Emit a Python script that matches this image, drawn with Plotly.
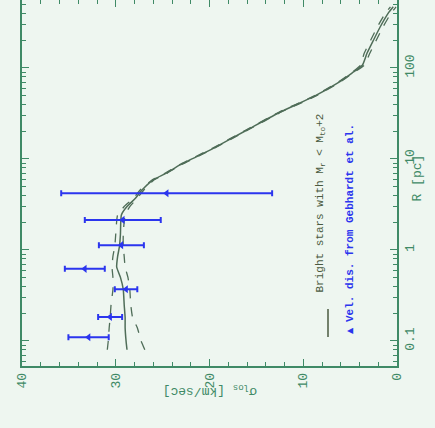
import plotly.graph_objects as go

# Model curves: R [pc] and line-of-sight velocity dispersion [km/s]
R_model = [0.08, 0.1, 0.14, 0.18, 0.25, 0.37, 0.5, 0.65, 0.85, 1.1, 1.5, 2.43, 3.0, 3.7,
           4.56, 5.9, 7.0, 8.6, 13.1, 20.8, 33, 48.4, 67.6, 88, 107, 145, 203, 282, 398, 470]
sigma_mid = [28.8, 28.9, 29.0, 29.0, 29.1, 29.2, 29.5, 29.9, 29.8, 29.6, 29.5, 29.4, 28.8, 27.9,
             27.2, 26.0, 24.6, 23.15, 19.6, 16.0, 12.4, 8.9, 6.4, 4.8, 3.7, 3.2, 2.5, 1.8, 0.95, 0.4]
sigma_hi = [30.9, 30.8, 30.7, 30.6, 30.5, 30.3, 30.3, 30.4, 30.3, 30.1, 30.0, 29.8, 29.1, 28.1,
            27.4, 26.1, 24.7, 23.25, 19.7, 16.1, 12.5, 9.0, 6.5, 4.9, 3.9, 3.5, 2.8, 2.1, 1.25, 0.7]
sigma_lo = [26.9, 27.3, 27.7, 28.2, 28.4, 28.5, 28.7, 29.0, 29.1, 29.2, 29.2, 29.0, 28.5, 27.7,
            27.0, 25.9, 24.5, 23.05, 19.5, 15.9, 12.3, 8.8, 6.3, 4.7, 3.5, 2.9, 2.2, 1.5, 0.65, 0.1]

# Gebhardt et al. velocity dispersions
R_obs = [0.11, 0.184, 0.37, 0.62, 1.13, 2.14, 4.2]
sigma_obs = [32.9, 30.6, 28.9, 33.3, 29.4, 29.25, 24.57]
sigma_err = [2.15, 1.28, 1.2, 2.13, 2.4, 4.05, 11.25]

sigma_ticks = [0, 10, 20, 30, 40]
R_ticks = [0.1, 1, 10, 100]
R_ticklabels = ["0.1", "1", "10", "100"]

AX = "#3f8a66"
BG = "#eef6f0"
CURVE = "#4f6d58"
BLUE = "#2b35ee"
FONT = "Liberation Mono"

fig = go.Figure()
fig.add_trace(go.Scatter(x=sigma_hi, y=R_model, mode="lines", line_shape="spline",
                         line=dict(color=CURVE, width=1.3, dash="dash", smoothing=0.5),
                         showlegend=False))
fig.add_trace(go.Scatter(x=sigma_lo, y=R_model, mode="lines", line_shape="spline",
                         line=dict(color=CURVE, width=1.3, dash="dash", smoothing=0.5),
                         showlegend=False))
fig.add_trace(go.Scatter(x=sigma_mid, y=R_model, mode="lines", line_shape="spline",
                         line=dict(color=CURVE, width=1.5, smoothing=0.5), showlegend=False))
fig.add_trace(go.Scatter(x=sigma_obs, y=R_obs, mode="markers",
                         marker=dict(symbol="triangle-left", size=7, color=BLUE),
                         error_x=dict(type="data", array=sigma_err, color=BLUE,
                                      thickness=2, width=3),
                         showlegend=False))

# plot-area geometry in pixels
L, Rm, T, B = 22, 38, 0, 62
W, H = 435, 428
pw, ph = W - L - Rm, H - T - B

def px(x):
    return (x - L) / pw

def py(y):
    return (H - B - y) / ph

ann = []
ann.append(dict(x=px(328), y=py(203), xref="paper", yref="paper",
                text="Bright stars with M<sub>r</sub> < M<sub>to</sub>+2",
                textangle=-90, showarrow=False,
                font=dict(family=FONT, size=11, color="#4a5a40")))
ann.append(dict(x=px(358), y=py(223), xref="paper", yref="paper",
                text="<b>Vel. dis. from Gebhardt et al.</b>",
                textangle=-90, showarrow=False,
                font=dict(family=FONT, size=11, color=BLUE)))
ann.append(dict(x=px(356), y=py(337), xref="paper", yref="paper",
                text="◀", showarrow=False,
                font=dict(family="DejaVu Sans", size=8, color=BLUE)))
ann.append(dict(x=px(426), y=py(178), xref="paper", yref="paper",
                text="R [pc]", textangle=-90, showarrow=False,
                font=dict(family=FONT, size=13, color=AX)))
ann.append(dict(x=px(210), y=py(401), xref="paper", yref="paper",
                text="σ<sub>los</sub> [km/sec]", textangle=180, showarrow=False,
                font=dict(family=FONT, size=13, color=AX)))

shapes = [dict(type="line", xref="paper", yref="paper",
               x0=px(328), x1=px(328), y0=py(309), y1=py(337),
               line=dict(color="#4a5a40", width=1.5))]

fig.update_layout(
    width=W, height=H,
    margin=dict(l=L, r=Rm, t=T, b=B, pad=0),
    paper_bgcolor=BG, plot_bgcolor=BG,
    annotations=ann, shapes=shapes,
    xaxis=dict(range=[40, 0], tickvals=sigma_ticks, ticks="inside", ticklen=7,
               automargin=False,
               tickcolor=AX, tickwidth=1.3, mirror="allticks", showline=True,
               linecolor=AX, linewidth=1.5, showgrid=False, zeroline=False,
               tickangle=-90, tickfont=dict(family=FONT, size=13, color=AX),
               minor=dict(dtick=2, ticks="inside", ticklen=4, tickcolor=AX, showgrid=False)),
    yaxis=dict(type="log", range=[-1.275, 2.747], side="right",
               automargin=False,
               tickvals=R_ticks, ticktext=R_ticklabels, ticks="inside", ticklen=7,
               tickcolor=AX, tickwidth=1.3, mirror="allticks", showline=True,
               linecolor=AX, linewidth=1.5, showgrid=False, zeroline=False,
               tickangle=-90, tickfont=dict(family=FONT, size=13, color=AX),
               minor=dict(dtick="D1", ticks="inside", ticklen=4, tickcolor=AX, showgrid=False)),
)

fig.write_html("out.html",
               config={"displayModeBar": False},
               post_script="document.body.style.margin='0';"
                           "document.body.style.background='" + BG + "';")
